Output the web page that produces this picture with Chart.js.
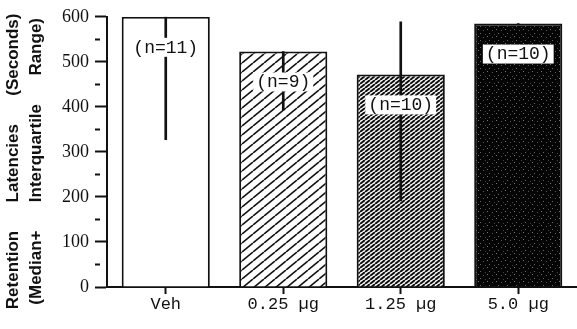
<!DOCTYPE html>
<html>
<head>
<meta charset="utf-8">
<script src="https://cdn.jsdelivr.net/npm/chart.js@4.4.1/dist/chart.umd.min.js"></script>
<style>
  html, body { margin: 0; padding: 0; background: #fff; }
  #wrap { width: 577px; height: 329px; }
</style>
</head>
<body>
<div id="wrap"><canvas id="myChart" width="577" height="329"></canvas></div>
<script>
// data
const groups = ['Veh', '0.25 µg', '1.25 µg', '5.0 µg'];
const medians = [600, 523, 472, 585];
const lowerQ = [327, 393, 191, 585];
const upperQ = [600, 523, 589, 585];
const nLabels = ['(n=11)', '(n=9)', '(n=10)', '(n=10)'];

//--- fill patterns
function hatch(w, h, lw) {
    const c = document.createElement('canvas');
    c.width = w; c.height = h;
    const g = c.getContext('2d');
    g.fillStyle = '#fff';
    g.fillRect(0, 0, w, h);
    g.strokeStyle = '#111';
    g.lineWidth = lw;
    for (let k = -1; k <= 1; k++) {
        g.beginPath();
        g.moveTo(k * w, h);
        g.lineTo(k * w + w, 0);
        g.stroke();
    }
    return g.createPattern(c, 'repeat');
}

function speckle() {
    const c = document.createElement('canvas');
    c.width = 9; c.height = 7;
    const g = c.getContext('2d');
    g.fillStyle = '#050505';
    g.fillRect(0, 0, 9, 7);
    const dots = [[1, 1, '#777'], [6, 2, '#555'], [3, 5, '#666'], [8, 6, '#444']];
    dots.forEach(function (d) {
        g.fillStyle = d[2];
        g.fillRect(d[0], d[1], 1, 1);
    });
    return g.createPattern(c, 'repeat');
}

const ctx = document.getElementById('myChart');
const fills = ['#ffffff', hatch(11, 9, 1.6), hatch(5, 4, 2), speckle()];

// white boxes with the n= labels, drawn over the bars and error lines
const nLabelPlugin = {
    id: 'nLabels',
    afterDatasetsDraw: function (chart) {
        const meta = chart.getDatasetMeta(1);
        const g = chart.ctx;
        g.save();
        g.font = '18px "Liberation Mono", monospace';
        g.textAlign = 'center';
        g.textBaseline = 'middle';
        meta.data.forEach(function (bar, i) {
            const y = bar.y + 30;
            const w = g.measureText(nLabels[i]).width + 6;
            g.fillStyle = '#fff';
            g.fillRect(bar.x - w / 2, y - 9, w, 19);
            g.fillStyle = '#111';
            g.fillText(nLabels[i], bar.x, y + 1);
        });
        g.restore();
    }
};

new Chart(ctx, {
    type: 'bar',
    data: {
        labels: groups,
        datasets: [{
            label: 'IQR',
            data: groups.map(function (g, i) { return [lowerQ[i], upperQ[i]]; }),
            backgroundColor: '#111',
            borderWidth: 0,
            barThickness: 2,
            grouped: false,
            order: 1
        }, {
            label: 'Median',
            data: medians,
            backgroundColor: fills,
            borderColor: '#111',
            borderWidth: 2,
            barPercentage: 0.75,
            categoryPercentage: 1,
            grouped: false,
            order: 2
        }]
    },
    options: {
        responsive: false,
        animation: false,
        layout: { padding: { top: 14, right: 0, left: 0, bottom: 0 } },
        plugins: {
            legend: { display: false },
            tooltip: { enabled: false }
        },
        scales: {
            x: {
                offset: true,
                grid: {
                    display: true, drawOnChartArea: false, offset: false,
                    tickLength: 7, tickColor: '#111', tickWidth: 2
                },
                border: { display: true, color: '#111', width: 2 },
                ticks: {
                    color: '#111', padding: 0,
                    font: { family: 'Liberation Mono', size: 17 }
                },
                afterFit: function (scale) { scale.height = 42; }
            },
            y: {
                min: 0,
                max: 600,
                grid: {
                    display: true, drawOnChartArea: false,
                    tickLength: 12, tickColor: '#111', tickWidth: 2,
                    tickBorderDash: function (c) {
                        return (c.tick && c.tick.value % 100 !== 0) ? [5, 50] : [];
                    }
                },
                border: { display: true, color: '#111', width: 2 },
                ticks: {
                    stepSize: 50, autoSkip: false, color: '#111', padding: 6,
                    font: { family: 'Liberation Serif', size: 18 },
                    callback: function (v) { return v % 100 === 0 ? v : ''; }
                },
                title: {
                    display: true,
                    text: ['Retention      Latencies      (Seconds)    ',
                           '(Median+      Interquartile      Range)    '],
                    color: '#111',
                    padding: { top: 2, bottom: 0 },
                    font: { family: 'Liberation Sans', size: 17, weight: 'bold', lineHeight: 1.35 }
                },
                afterFit: function (scale) { scale.width = 107; }
            }
        }
    },
    plugins: [nLabelPlugin]
});
</script>
</body>
</html>
